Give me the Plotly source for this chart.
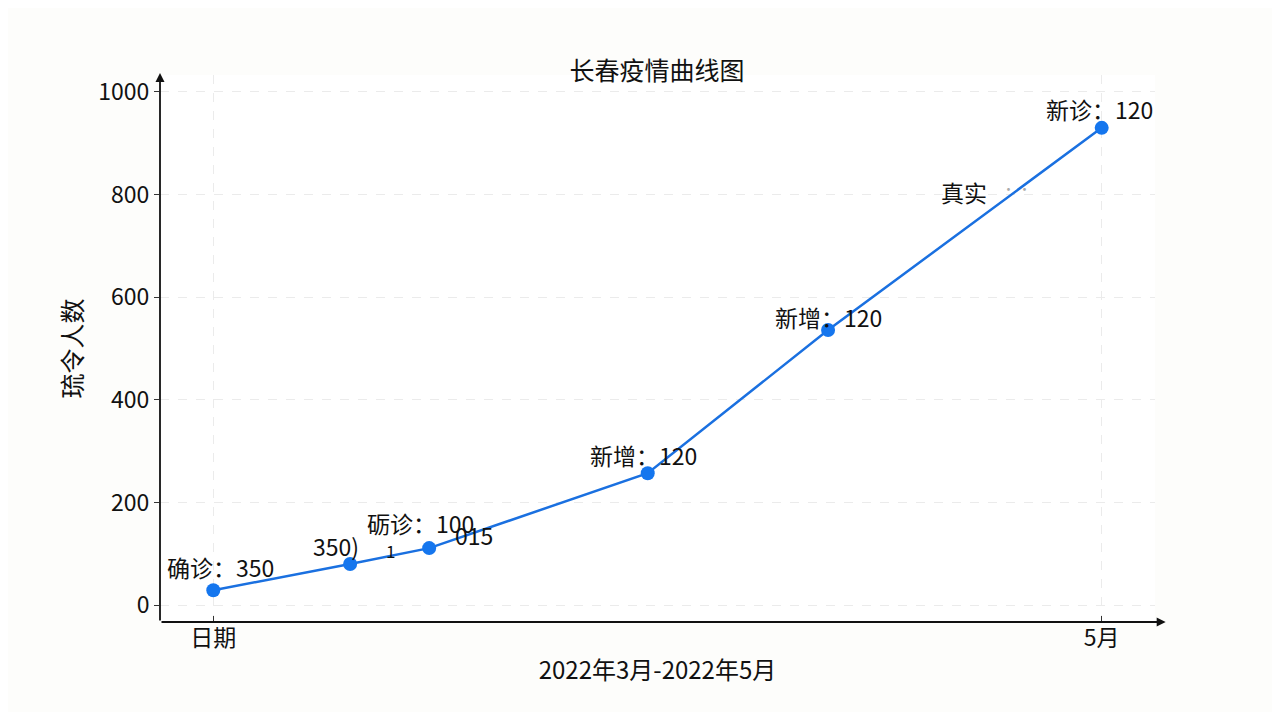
"""Changchun epidemic curve, redrawn with plotly."""

import plotly.graph_objects as go

# data
x_pos = [0, 15.4, 24.3, 48.9, 69.2, 100]
cases = [29, 80, 111, 257, 536, 930]
x_ticks = [0, 100]
x_tick_text = ["日期", "5月"]
y_ticks = [0, 200, 400, 600, 800, 1000]

labels = [
    ("确诊：350", 0.8, 74, 23),
    ("350)", 13.8, 115, 23),
    ("1", 19.9, 106, 17),
    ("砺诊：100", 23.3, 160, 23),
    ("015", 29.4, 136, 23),
    ("新增：120", 48.4, 292, 23),
    ("新增：120", 69.2, 561, 23),
    ("真实", 84.5, 805, 23),
    ("新诊：120", 99.8, 967, 23),
]

FONT = "Noto Sans CJK SC, Noto Sans, sans-serif"
BLUE = "#1a70e0"
X_RANGE = [-6, 106]
Y_RANGE = [-33, 1033]

fig = go.Figure(
    go.Scatter(
        x=x_pos,
        y=cases,
        mode="lines+markers",
        line=dict(color=BLUE, width=2.5),
        marker=dict(color="#1576ee", size=14),
        hoverinfo="skip",
    )
)

for text, x, y, size in labels:
    fig.add_annotation(
        x=x, y=y, text=text, showarrow=False,
        font=dict(size=size, color="#111111", family=FONT),
    )
# faint marks after 真实
fig.add_annotation(
    x=90.4, y=812, text="· ·", showarrow=False,
    font=dict(size=13, color="#aaaaaa", family=FONT),
)

# axis lines with arrow heads
fig.add_annotation(
    x=107.2, y=Y_RANGE[0], ax=X_RANGE[0], ay=Y_RANGE[0],
    xref="x", yref="y", axref="x", ayref="y", text="",
    showarrow=True, arrowhead=2, arrowsize=1, arrowwidth=1.8, arrowcolor="#111111",
)
fig.add_annotation(
    x=X_RANGE[0], y=1037, ax=X_RANGE[0], ay=Y_RANGE[0],
    xref="x", yref="y", axref="x", ayref="y", text="",
    showarrow=True, arrowhead=2, arrowsize=1, arrowwidth=1.8, arrowcolor="#111111",
)

fig.update_layout(
    width=1264,
    height=704,
    paper_bgcolor="#fdfdfb",
    plot_bgcolor="white",
    showlegend=False,
    margin=dict(l=152, r=117, t=67, b=90),
    font=dict(family=FONT, color="#111111"),
    title=dict(
        text="长春疫情曲线图", x=0.5134, xanchor="center", y=0.91, yanchor="middle",
        font=dict(size=25, family=FONT),
    ),
    xaxis=dict(
        range=X_RANGE,
        tickvals=x_ticks,
        ticktext=x_tick_text,
        ticks="inside",
        ticklen=6,
        tickcolor="#333333",
        tickfont=dict(size=23),
        showgrid=True,
        gridcolor="#ebebeb",
        griddash="dash",
        gridwidth=1,
        zeroline=False,
        showline=False,
        title=dict(text="2022年3月-2022年5月", font=dict(size=24), standoff=10),
    ),
    yaxis=dict(
        range=Y_RANGE,
        tickvals=y_ticks,
        ticks="outside",
        ticklen=5,
        tickcolor="#333333",
        tickfont=dict(size=23),
        showgrid=True,
        gridcolor="#ebebeb",
        griddash="dash",
        gridwidth=1,
        zeroline=False,
        showline=False,
        title=dict(text="琉令人数", font=dict(size=25), standoff=8),
    ),
)

fig.write_html("out.html")
